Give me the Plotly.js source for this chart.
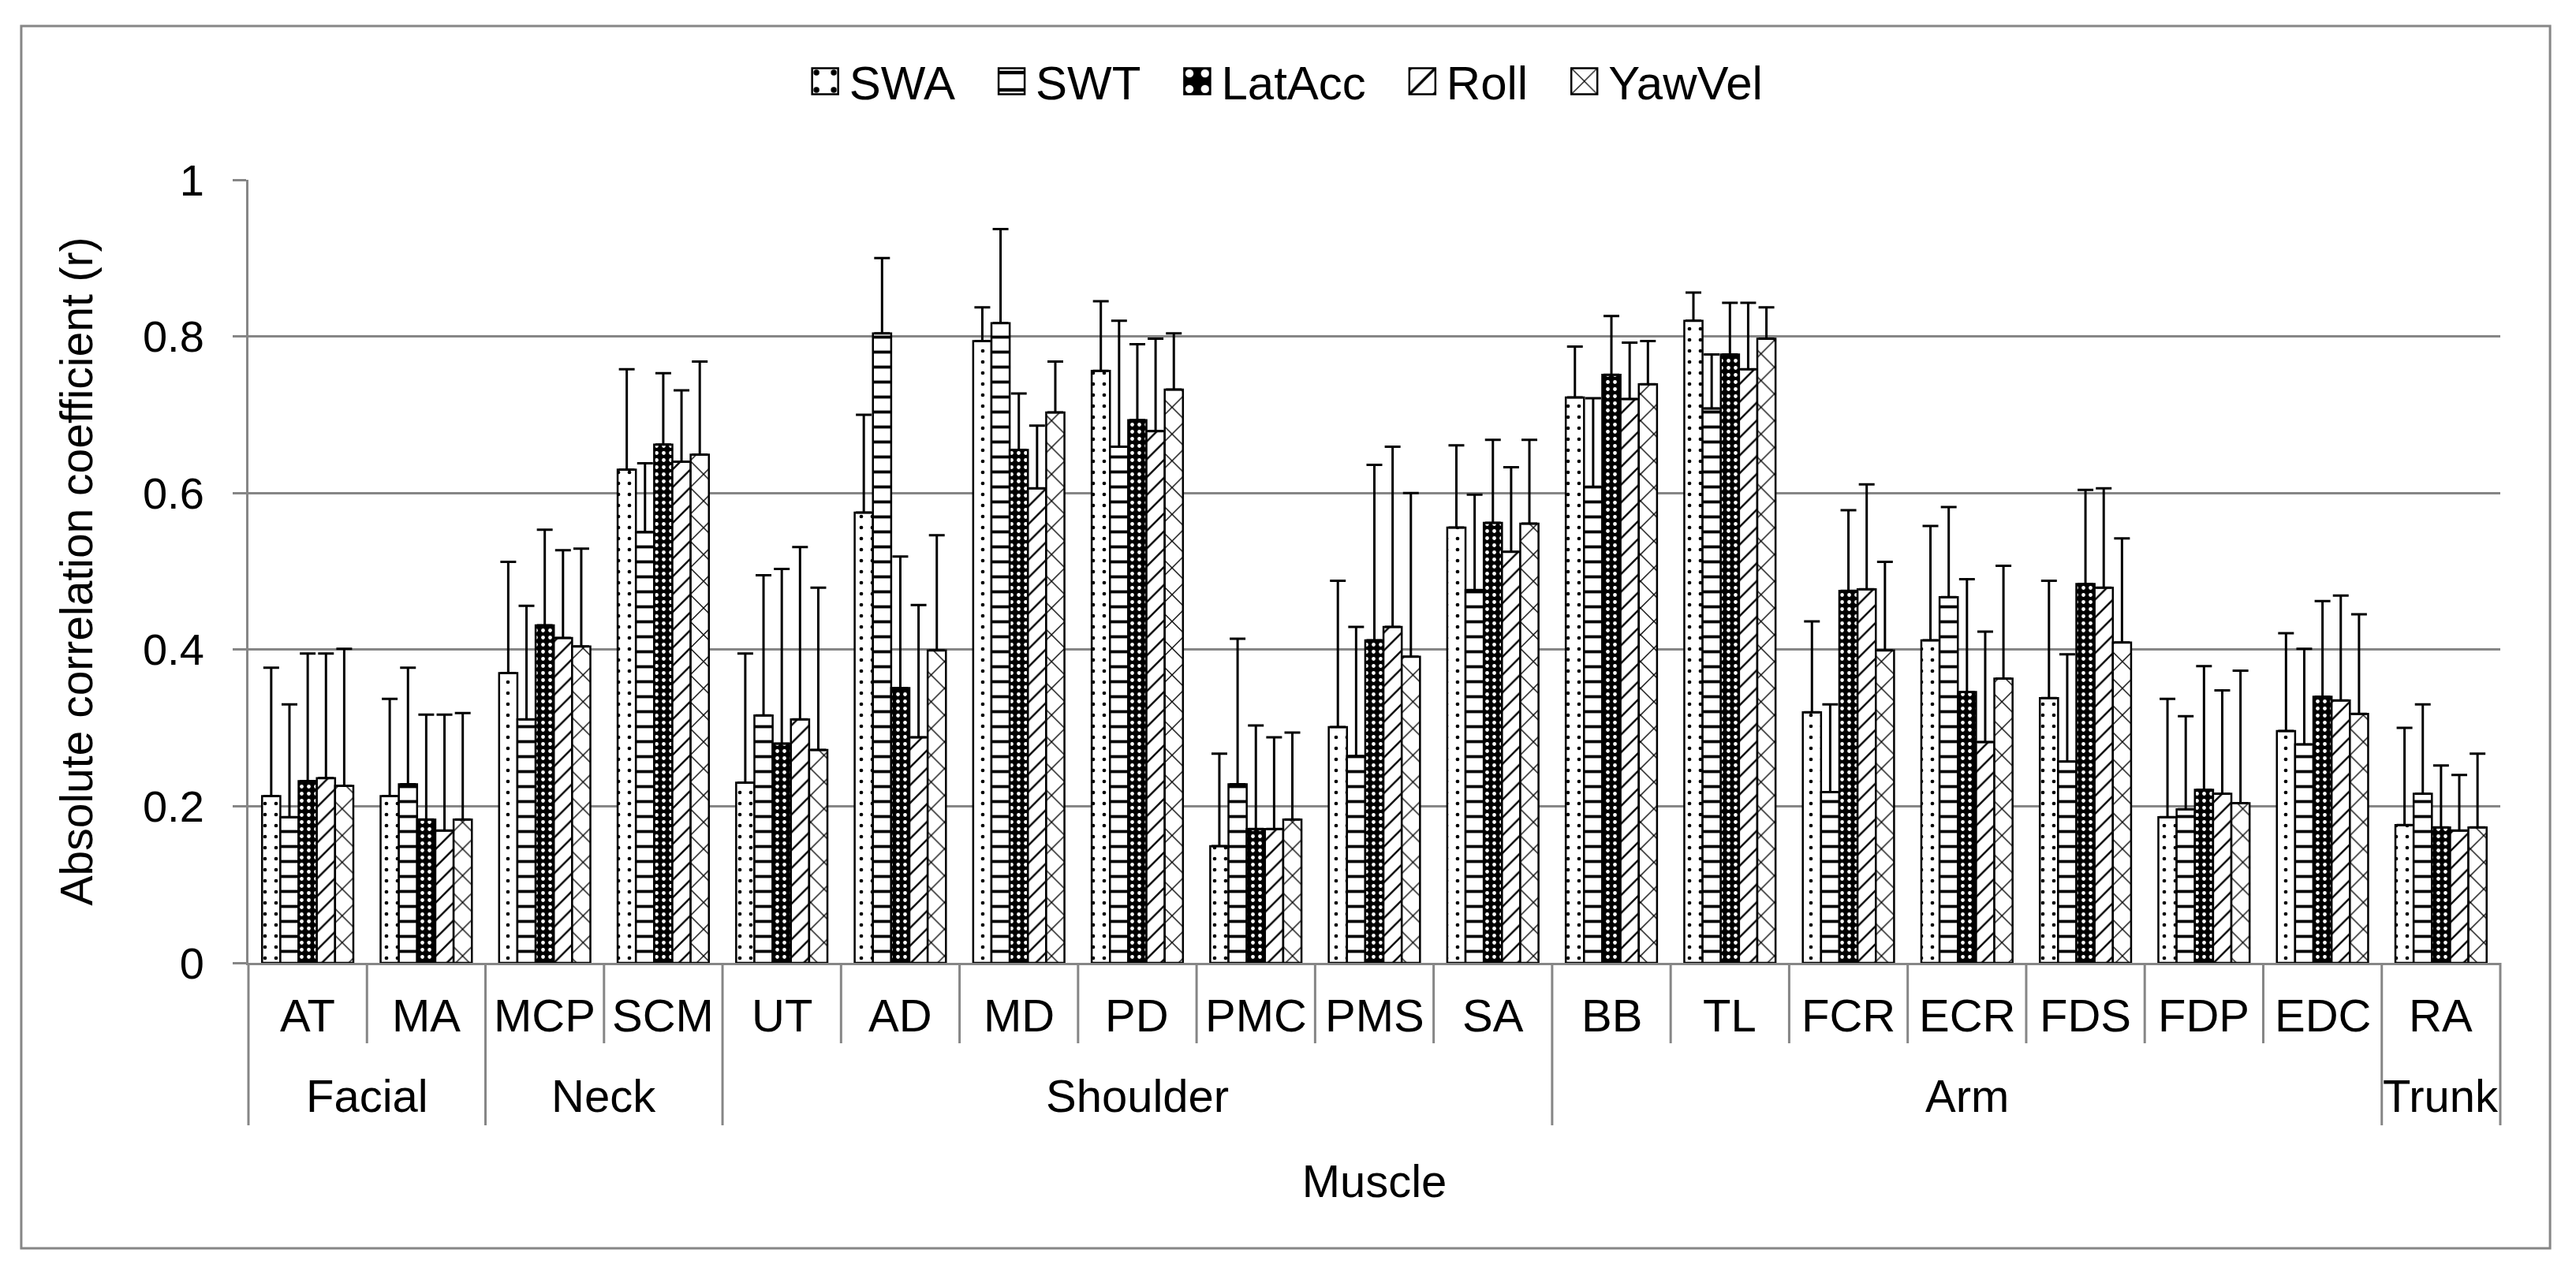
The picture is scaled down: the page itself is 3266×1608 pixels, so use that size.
<!DOCTYPE html>
<html>
<head>
<meta charset="utf-8">
<script src="https://cdn.plot.ly/plotly-3.0.1.min.js"></script>
<style>
  html, body { margin: 0; padding: 0; background: #ffffff; }
  #chart { width: 3266px; height: 1608px; }
</style>
</head>
<body>
<div id="chart"></div>
<script>
// ---------------- data ----------------
const muscles = ['AT','MA','MCP','SCM','UT','AD','MD','PD','PMC','PMS','SA','BB','TL','FCR','ECR','FDS','FDP','EDC','RA'];
const groups  = ['Facial','Facial','Neck','Neck','Shoulder','Shoulder','Shoulder','Shoulder','Shoulder','Shoulder','Shoulder',
                 'Arm','Arm','Arm','Arm','Arm','Arm','Arm','Trunk'];
const seriesNames = ['SWA','SWT','LatAcc','Roll','YawVel'];

const swa      = [0.213,0.213,0.370,0.630,0.230,0.575,0.794,0.756,0.149,0.301,0.556,0.722,0.820,0.320,0.412,0.338,0.186,0.296,0.176];
const swaSD    = [0.164,0.124,0.142,0.128,0.165,0.125,0.043,0.089,0.118,0.187,0.105,0.065,0.036,0.116,0.146,0.150,0.151,0.125,0.124];
const swt      = [0.186,0.228,0.311,0.550,0.316,0.804,0.817,0.659,0.228,0.264,0.476,0.608,0.708,0.218,0.467,0.257,0.196,0.279,0.216];
const swtSD    = [0.144,0.149,0.145,0.088,0.179,0.096,0.120,0.161,0.186,0.165,0.122,0.113,0.069,0.112,0.115,0.137,0.119,0.122,0.114];
const latAcc   = [0.232,0.183,0.431,0.662,0.280,0.351,0.655,0.693,0.171,0.412,0.562,0.751,0.777,0.475,0.346,0.484,0.221,0.340,0.173];
const latAccSD = [0.163,0.134,0.122,0.091,0.223,0.168,0.072,0.097,0.132,0.224,0.106,0.075,0.066,0.103,0.144,0.120,0.158,0.122,0.079];
const roll     = [0.236,0.169,0.415,0.640,0.311,0.288,0.606,0.679,0.171,0.429,0.525,0.720,0.758,0.477,0.282,0.479,0.216,0.335,0.169];
const rollSD   = [0.159,0.148,0.112,0.091,0.220,0.169,0.080,0.118,0.117,0.230,0.108,0.072,0.085,0.134,0.141,0.127,0.132,0.134,0.071];
const yawVel   = [0.226,0.183,0.404,0.649,0.272,0.399,0.703,0.732,0.183,0.391,0.561,0.739,0.797,0.399,0.363,0.409,0.204,0.318,0.173];
const yawVelSD = [0.175,0.136,0.125,0.119,0.207,0.147,0.065,0.072,0.111,0.209,0.107,0.055,0.040,0.113,0.144,0.133,0.169,0.127,0.094];

const yTickVals   = [0, 0.2, 0.4, 0.6, 0.8, 1];
const yTickLabels = ['0', '0.2', '0.4', '0.6', '0.8', '1'];

const xTitle = 'Muscle';
const yTitle = 'Absolute correlation coefficient (r)';

// ---------------- styles ----------------
const GRAY = '#868686';
const FONT = 'Liberation Sans, Arial, Helvetica, sans-serif';
const patterns = [
  { shape: '.', fgcolor: '#000', bgcolor: '#fff', size: 14, solidity: 0.09 },
  { shape: '-', fgcolor: '#000', bgcolor: '#fff', size: 19, solidity: 0.2 },
  { shape: '.', fgcolor: '#fff', bgcolor: '#000', size: 9,  solidity: 0.22 },
  { shape: '/', fgcolor: '#000', bgcolor: '#fff', size: 16, solidity: 0.15 },
  { shape: 'x', fgcolor: '#000', bgcolor: '#fff', size: 24, solidity: 0.11 }
];

const values = [swa, swt, latAcc, roll, yawVel];
const sds    = [swaSD, swtSD, latAccSD, rollSD, yawVelSD];

const data = seriesNames.map((name, k) => ({
  type: 'bar',
  name: name,
  x: muscles,
  y: values[k],
  marker: {
    color: patterns[k].bgcolor,
    line: { color: '#000', width: 2.5 },
    pattern: patterns[k]
  },
  error_y: {
    type: 'data',
    symmetric: false,
    array: sds[k],
    arrayminus: muscles.map(() => 0),
    color: '#000',
    thickness: 3,
    width: 10
  }
}));

// ---------------- separators & labels ----------------
const n = muscles.length;
const shapes = [];
for (let i = 0; i <= n; i++) {
  const isGroupBoundary = (i === 0 || i === n || groups[i] !== groups[i - 1]);
  shapes.push({
    type: 'line', xref: 'paper', yref: 'paper',
    x0: i / n, x1: i / n, y0: 0, y1: isGroupBoundary ? -0.2075 : -0.1027,
    line: { color: GRAY, width: 3 }
  });
}
// outer frame
shapes.push({
  type: 'rect', xref: 'paper', yref: 'paper',
  x0: -0.1009, x1: 1.0221, y0: -0.3646, y1: 1.1964,
  line: { color: GRAY, width: 3 }, fillcolor: 'rgba(0,0,0,0)'
});

const annotations = [];
muscles.forEach((m) => {
  annotations.push({
    xref: 'x', yref: 'paper', x: m, y: -0.0665, yanchor: 'middle', xanchor: 'center',
    text: m, showarrow: false, font: { family: FONT, size: 58, color: '#000' }
  });
});
const groupNames = [];
groups.forEach((g, i) => { if (i === 0 || g !== groups[i - 1]) groupNames.push(g); });
groupNames.forEach((g) => {
  const first = groups.indexOf(g), last = groups.lastIndexOf(g);
  annotations.push({
    xref: 'paper', yref: 'paper', x: ((first + last) / 2 + 0.5) / n, y: -0.1692,
    yanchor: 'middle', xanchor: 'center',
    text: g, showarrow: false, font: { family: FONT, size: 58, color: '#000' }
  });
});

const LEGEND_ITEMWIDTH = 87;
const layout = {
  width: 3266, height: 1608,
  margin: { l: 315, r: 96, t: 228, b: 387, pad: 0 },
  paper_bgcolor: '#fff', plot_bgcolor: '#fff',
  font: { family: FONT, size: 58, color: '#000' },
  barmode: 'group', bargap: 0.23, bargroupgap: 0,
  showlegend: true,
  legend: {
    orientation: 'h', xref: 'container', yref: 'container',
    x: 0.493, xanchor: 'center', y: 1 - 103 / 1608, yanchor: 'middle',
    font: { family: FONT, size: 60, color: '#000' },
    itemwidth: LEGEND_ITEMWIDTH, traceorder: 'normal', bgcolor: 'rgba(0,0,0,0)'
  },
  xaxis: {
    type: 'category', showticklabels: false, ticks: '',
    showline: true, linecolor: GRAY, linewidth: 3, showgrid: false, zeroline: false,
    automargin: false,
    title: { text: xTitle, font: { family: FONT, size: 58, color: '#000' }, standoff: 255 }
  },
  yaxis: {
    range: [0, 1], tickmode: 'array', tickvals: yTickVals, ticktext: yTickLabels,
    ticks: 'outside', ticklen: 17, tickwidth: 3, tickcolor: GRAY,
    showline: true, linecolor: GRAY, linewidth: 3,
    showgrid: true, gridcolor: GRAY, gridwidth: 3, zeroline: false,
    tickfont: { family: FONT, size: 56, color: '#000' },
    ticklabelstandoff: 25, automargin: false,
    title: { text: yTitle, font: { family: FONT, size: 57, color: '#000' }, standoff: 45 }
  },
  shapes: shapes,
  annotations: annotations
};

Plotly.newPlot('chart', data, layout, { staticPlot: true, displayModeBar: false }).then((gd) => {
  // enlarge legend swatches and sit them just before their labels
  const textX = LEGEND_ITEMWIDTH + 10;
  gd.querySelectorAll('.legend .legendpoints path').forEach((p) => {
    p.setAttribute('transform', 'translate(' + (textX - 14 - 16.5) + ',0) scale(2.75)');
    p.style.strokeWidth = '0.9px';
  });
});
</script>
</body>
</html>
